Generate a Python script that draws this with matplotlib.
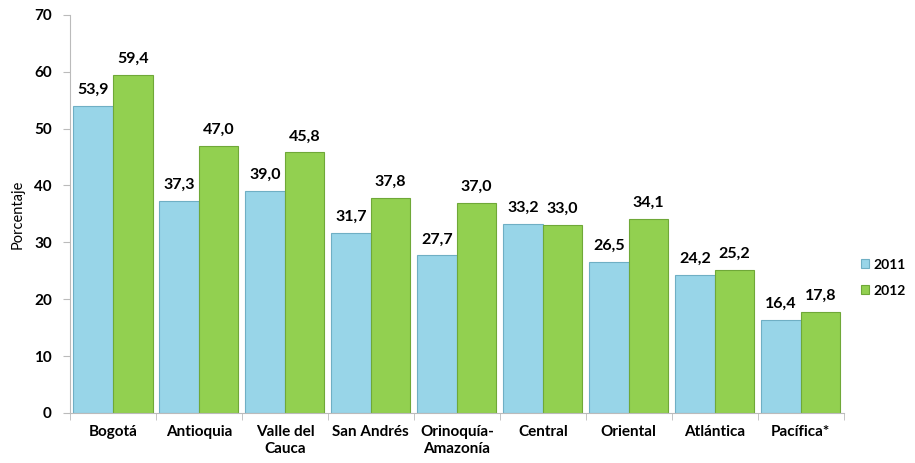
import matplotlib
matplotlib.use('Agg')
from matplotlib import pyplot as plt
import numpy as np

plt.rcParams['font.family'] = ['Lato', 'DejaVu Sans']

regiones = ['Bogotá', 'Antioquia', 'Valle del\nCauca', 'San Andrés', 'Orinoquía-\nAmazonía',
            'Central', 'Oriental', 'Atlántica', 'Pacífica*']
v2011 = [53.9, 37.3, 39.0, 31.7, 27.7, 33.2, 26.5, 24.2, 16.4]
v2012 = [59.4, 47.0, 45.8, 37.8, 37.0, 33.0, 34.1, 25.2, 17.8]
anios = ['2011', '2012']

azul = '#98D5E8'
verde = '#92D050'

fig = plt.figure(figsize=(9.15, 4.63), dpi=100)
ax = fig.add_axes([0.0765, 0.108, 0.8455, 0.86])

x = np.arange(len(regiones))
w = 0.46
b1 = ax.bar(x - w / 2, v2011, w, color=azul, edgecolor='#6FAFC4', linewidth=0.8, label=anios[0])
b2 = ax.bar(x + w / 2, v2012, w, color=verde, edgecolor='#6FA838', linewidth=0.8, label=anios[1])

for barras in (b1, b2):
    for b in barras:
        h = b.get_height()
        ax.text(b.get_x() + b.get_width() / 2, h + 1.6, f'{h:.1f}'.replace('.', ','),
                ha='center', va='bottom', fontsize=11.5, fontweight='bold')

ax.set_xlim(-0.5, len(regiones) - 0.5)
ax.set_ylim(0, 70)
ax.set_yticks(range(0, 71, 10))
ax.set_xticks(x)
ax.set_xticklabels(regiones, fontsize=11, fontweight='bold')
ax.set_xticks(np.arange(-0.5, len(regiones), 1), minor=True)
ax.tick_params(axis='x', which='major', length=0, pad=9)
ax.tick_params(axis='x', which='minor', length=5, color='#BBBBBB', direction='out')
ax.tick_params(axis='y', length=5, color='#BBBBBB', labelsize=11, pad=8)
for lab in ax.get_yticklabels():
    lab.set_fontweight('bold')

ax.set_ylabel('Porcentaje', fontsize=10.5, labelpad=7)

for s in ['top', 'right']:
    ax.spines[s].set_visible(False)
ax.spines['left'].set_color('#BBBBBB')
ax.spines['bottom'].set_color('#BBBBBB')

ax.legend(loc='center left', bbox_to_anchor=(1.022, 0.34), frameon=False,
          prop={'weight': 'bold', 'size': 10}, handlelength=0.6, handleheight=0.6,
          handletextpad=0.35, labelspacing=1.0, borderpad=0, borderaxespad=0)

fig.savefig('out.png', dpi=100)
